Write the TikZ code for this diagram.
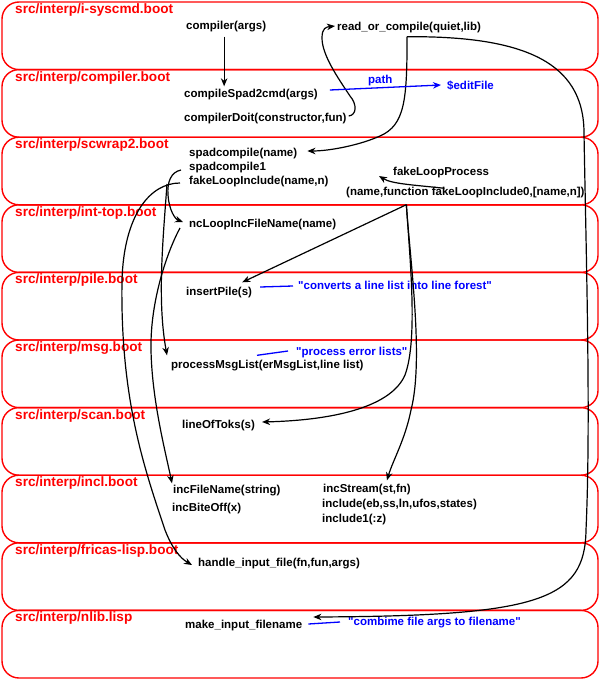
\documentclass[tikz,border=0pt]{standalone}
\usepackage{fontspec}
\setmainfont{Liberation Sans}
\usetikzlibrary{arrows.meta,calc}
\begin{document}
\begin{tikzpicture}[x=1pt,y=-1pt,
  filebox/.style={draw=red, line width=1.4pt, rounded corners=17pt},
  flabel/.style={anchor=west, inner sep=0pt, text=red, font=\bfseries\fontsize{13.6}{15}\selectfont, text height=10pt, text depth=3pt},
  fn/.style={anchor=west, inner sep=0pt, font=\bfseries\fontsize{11.5}{13}\selectfont, text height=8.5pt, text depth=2.5pt},
  note/.style={fn, text=blue},
  tip/.style={-{Stealth[length=8pt,width=6.5pt,inset=2.5pt]}},
  call/.style={draw=black, line width=1.2pt, tip},
  link/.style={draw=blue, line width=1.3pt}]
\useasboundingbox (0,0) rectangle (600,680);
\foreach \i in {0,...,9} {
  \draw[filebox] (2,{2+67.6*\i}) rectangle (598,{69.6+67.6*\i});
}
% file labels
\node[flabel] (f1) at (15,10) {src/interp/i-syscmd.boot};
\node[flabel] (f2) at (15,77.6) {src/interp/compiler.boot};
\node[flabel] (f3) at (15,145.2) {src/interp/scwrap2.boot};
\node[flabel] (f4) at (15,212.8) {src/interp/int-top.boot};
\node[flabel] (f5) at (15,280.4) {src/interp/pile.boot};
\node[flabel] (f6) at (15,348) {src/interp/msg.boot};
\node[flabel] (f7) at (15,415.6) {src/interp/scan.boot};
\node[flabel] (f8) at (15,483.2) {src/interp/incl.boot};
\node[flabel] (f9) at (15,550.8) {src/interp/fricas-lisp.boot};
\node[flabel] (f10) at (15,618.4) {src/interp/nlib.lisp};
% functions
\node[fn] (compiler) at (186,26) {compiler(args)};
\node[fn] (roc) at (337,27) {read\_or\_compile(quiet,lib)};
\node[fn] (cs2c) at (184,94) {compileSpad2cmd(args)};
\node[fn] (cdoit) at (184,118) {compilerDoit(constructor,fun)};
\node[note] (pathlbl) at (368,80) {path};
\node[note] (editfile) at (447,86) {\$editFile};
\node[fn] (spc) at (189,153) {spadcompile(name)};
\node[fn] (spc1) at (189,167) {spadcompile1};
\node[fn] (fli) at (189,181) {fakeLoopInclude(name,n)};
\node[fn] (flp) at (393,172) {fakeLoopProcess};
\node[fn] (flpargs) at (346,192) {(name,function fakeLoopInclude0,[name,n])};
\node[fn] (ncl) at (189,224) {ncLoopIncFileName(name)};
\node[fn] (ip) at (186,292) {insertPile(s)};
\node[note] (ipnote) at (298,286) {\textquotedbl converts a line list into line forest\textquotedbl};
\node[fn] (pml) at (171,365) {processMsgList(erMsgList,line list)};
\node[note] (pmlnote) at (296,352) {\textquotedbl process error lists\textquotedbl};
\node[fn] (lot) at (182,425) {lineOfToks(s)};
\node[fn] (ifn) at (173,490) {incFileName(string)};
\node[fn] (ibo) at (172,508) {incBiteOff(x)};
\node[fn] (ist) at (323,489) {incStream(st,fn)};
\node[fn] (inc) at (322,504) {include(eb,ss,ln,ufos,states)};
\node[fn] (inc1) at (322,519) {include1(:z)};
\node[fn] (hif) at (198,563) {handle\_input\_file(fn,fun,args)};
\node[fn] (mif) at (185,625) {make\_input\_filename};
\node[note] (mifnote) at (348,622) {\textquotedbl combime file args to filename\textquotedbl};
\coordinate (fork) at ($(flpargs.south)+(-59,7)$);
% connectors
\draw[call] ($(compiler.south)+(-2,5)$) -- ($(compiler.south |- cs2c.north)+(-2,-2)$);
\draw[call] ($(cdoit.east)+(2,-2)$) .. controls (357,115) and (357,104) .. (350,96)
  .. controls (338,78) and (322,55) .. (322,38) .. controls (322,28) and (326,27) .. ($(roc.west)+(-2,-1)$);
\draw[call] ($(roc.south)+(-2,4)$) .. controls (407,100) and (405,125) .. (380,136)
  .. controls (360,145) and (330,151) .. ($(spc.east)+(10,-2)$);
\draw[call] ($(roc.south)+(-2,4)$) .. controls (520,36) and (584,60) .. (584,133)
  .. controls (586,250) and (591,420) .. (586,530) .. controls (585,600) and (540,616) .. ($(mif.east)+(11,-8)$);
\draw[link,tip] ($(cs2c.east)+(12,-4)$) -- ($(editfile.west)+(-6,-1)$);
\draw[call] ($(flpargs.north)+(-21,2)$) .. controls (415,185) and (392,184) .. ($(flp.west)+(-14,4)$);
\draw[call] ($(spc1.west)+(-8,3)$) .. controls (171,172) and (167,182) .. (168,195)
  .. controls (169,210) and (175,219) .. ($(ncl.west)+(-6,-2)$);
\draw[call] ($(fli.west)+(-9,2)$) .. controls (150,183) and (124,215) .. (122,280)
  .. controls (120,400) and (145,470) .. (165,530) .. controls (172,548) and (180,558) .. ($(hif.west)+(-6,2)$);
\draw[call] ($(fli.west)+(-22,3)$) .. controls (163,240) and (157,300) .. ($(pml.north west)+(-4,-4)$);
\draw[call] ($(ncl.west)+(-9,4)$) .. controls (168,250) and (150,300) .. (151,350)
  .. controls (152,400) and (165,450) .. ($(ifn.north west)+(-1,-1)$);
\draw[call] (fork) -- ($(ip.north east)+(-10,-4)$);
\draw[call] (fork) .. controls (410,260) and (418,340) .. (405,375)
  .. controls (392,405) and (340,420) .. ($(lot.east)+(7,-3)$);
\draw[call] (fork) .. controls (410,260) and (424,360) .. (411,410)
  .. controls (405,440) and (393,460) .. ($(ist.north)+(20,-3)$);
\draw[link] ($(ip.east)+(8,-5)$) -- ($(ipnote.west)+(-5,0)$);
\draw[link] ($(pml.north west)+(86,-4)$) -- ($(pmlnote.west)+(-8,-1)$);
\draw[link] ($(mif.east)+(6,-1)$) -- ($(mifnote.west)+(-8,0)$);
\end{tikzpicture}
\end{document}
